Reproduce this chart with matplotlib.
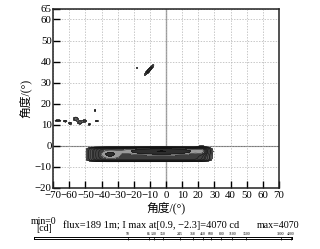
import numpy as np
import matplotlib
matplotlib.use("Agg")
import matplotlib.pyplot as plt
from matplotlib.colors import ListedColormap, BoundaryNorm

plt.rcParams['font.family'] = ['Liberation Serif', 'Noto Sans CJK SC']
plt.rcParams['axes.unicode_minus'] = True

# contour levels (cd) as shown on the scale bar
levels = [50, 85, 130, 150, 245, 368, 450, 600, 800, 1100, 1500, 3800, 4000, 5000]
scale_labels = ['50', '85', '130', '150', '245', '368', '450', '600', '800',
                '1100', '1500', '3800', '4000']
# where each label sits along the scale bar (fraction of bar length)
scale_pos = [0.365, 0.446, 0.465, 0.50, 0.565, 0.615, 0.654, 0.685, 0.727,
             0.769, 0.823, 0.958, 0.995]

# light spots: centre x, centre y, width, height, angle, peak, shape power
spot_x = [-10.5, -3.0, -35.0, 22.0, -67.0, -62.5, -59.5, -56.0, -53.5, -50.5, -47.5, -43.0, -44.0, -18.0, -10.5]
spot_y = [-4.0, -2.6, -4.0, -2.5, 12.0, 11.7, 10.7, 12.8, 11.2, 11.8, 10.2, 11.8, 16.8, 37.0, 36.0]
spot_w = [35.0, 14.0, 5.0, 3.0, 2.0, 1.2, 1.0, 1.5, 1.5, 1.3, 0.6, 1.0, 0.4, 0.2, 3.3]
spot_h = [3.1, 1.0, 1.6, 1.6, 0.35, 0.4, 0.5, 0.9, 0.9, 0.6, 0.4, 0.25, 0.5, 0.3, 0.6]
spot_ang = [0, 0, 0, 0, 0, 0, 0, 0, 0, 0, 0, 0, 0, 0, 40]
spot_amp = [1000, 2900, 700, 600, 120, 120, 120, 130, 130, 120, 120, 120, 120, 100, 200]
spot_pow = [4, 1, 1, 1, 1, 1, 1, 1, 1, 1, 1, 1, 1, 1, 1]

x = np.arange(-70, 70.01, 0.2)
y = np.arange(-20, 65.01, 0.15)
X, Y = np.meshgrid(x, y)
Z = np.zeros_like(X)
for cx, cy, w, h, a, amp, p in zip(spot_x, spot_y, spot_w, spot_h, spot_ang, spot_amp, spot_pow):
    t = np.radians(a)
    dx = (X - cx) * np.cos(t) + (Y - cy) * np.sin(t)
    dy = -(X - cx) * np.sin(t) + (Y - cy) * np.cos(t)
    Z += amp * np.exp(-((dx / w) ** 2) ** (p + 1 if p > 1 else p) - ((dy / h) ** 2) ** p)

band_colors = ['#707070', '#666666', '#5e5e5e', '#585858', '#525252', '#4c4c4c',
               '#474747', '#434343', '#3f3f3f', '#9a9a9a', '#2e2e2e', '#111111', '#000000']
cmap = ListedColormap(band_colors)
norm = BoundaryNorm(levels, cmap.N)

fig = plt.figure(figsize=(3.2, 2.49), dpi=100)
ax = fig.add_axes([0.166, 0.245, 0.706, 0.719])

ax.contourf(X, Y, Z, levels=levels, cmap=cmap, norm=norm)
ax.contour(X, Y, Z, levels=levels[:-1], colors='#111111', linewidths=0.35)

ax.axvline(0, color='#999999', lw=1.0, zorder=0)
ax.axhline(0, color='#777777', lw=0.8, zorder=0)
ax.grid(True, color='#b0b0b0', ls=(0, (2, 2)), lw=0.5)
ax.set_axisbelow(True)

ax.set_xlim(-70, 70)
ax.set_ylim(-20, 65)
ax.set_xticks(np.arange(-70, 71, 10))
ax.set_yticks([-20, -10, 0, 10, 20, 30, 40, 50, 60, 65])
ax.tick_params(direction='in', length=5, width=1, labelsize=7.8, pad=1)
ax.tick_params(axis='x', pad=2.5)
for s in ax.spines.values():
    s.set_linewidth(1.1)
    s.set_color('#222222')

ax.set_xlabel('角度/(°)', fontsize=8.5, labelpad=1)
ax.set_ylabel('角度/(°)', fontsize=8.5, labelpad=2)

# text line under the chart
fig.text(0.097, 0.102, 'min=0', fontsize=7, ha='left', va='baseline')
fig.text(0.112, 0.072, '[cd]', fontsize=7, ha='left', va='baseline')
fig.text(0.197, 0.084, 'flux=189 1m; I max at[0.9, \u22122.3]=4070 cd', fontsize=7.5,
         ha='left', va='baseline')
fig.text(0.935, 0.084, 'max=4070', fontsize=7.2, ha='right', va='baseline')

# scale bar
cax = fig.add_axes([0.106, 0.042, 0.806, 0.008])
cax.set_xlim(0, 1)
cax.set_ylim(0, 1)
cax.set_yticks([])
cax.set_xticks(scale_pos)
cax.set_xticklabels(scale_labels)
cax.xaxis.set_ticks_position('top')
cax.tick_params(axis='x', direction='in', length=2, width=0.5, labelsize=2.8, pad=0.5)
for s in cax.spines.values():
    s.set_linewidth(0.7)

fig.savefig('out.png', dpi=100)
